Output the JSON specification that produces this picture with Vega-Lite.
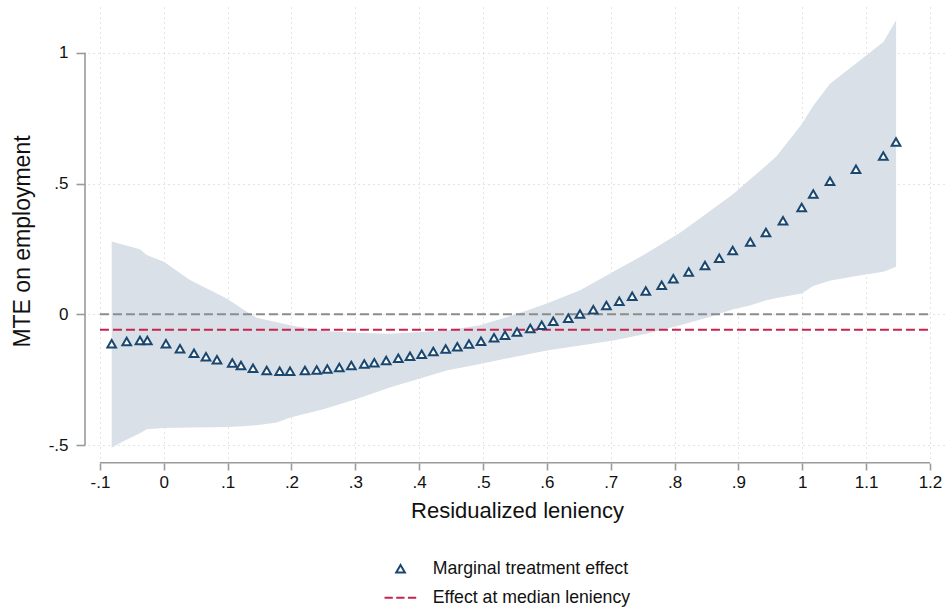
{
  "$schema": "https://vega.github.io/schema/vega-lite/v6.json",
  "width": 858,
  "height": 451,
  "autosize": {"type": "none"},
  "padding": {"left": 88, "top": 7, "right": 0, "bottom": 152},
  "background": "white",
  "config": {
    "view": {"stroke": null},
    "font": "Liberation Sans",
    "axis": {
      "domain": false,
      "gridColor": "#c8c8c8",
      "gridDash": [1, 4],
      "gridWidth": 1,
      "tickColor": "#9a9a9a",
      "tickWidth": 1.6,
      "labelColor": "#111111",
      "labelFont": "Liberation Sans",
      "labelFontSize": 17,
      "titleFont": "Liberation Sans",
      "titleFontSize": 22,
      "titleFontWeight": "normal",
      "titleColor": "#111111"
    },
    "legend": {
      "labelFont": "Liberation Sans",
      "labelFontSize": 17.7,
      "labelColor": "#111111",
      "labelLimit": 400
    }
  },
  "datasets": {
    "band": [
      {"leniency": -0.0816, "hi": 0.278, "lo": -0.51},
      {"leniency": -0.0634, "hi": 0.266, "lo": -0.485},
      {"leniency": -0.0373, "hi": 0.249, "lo": -0.455},
      {"leniency": -0.0268, "hi": 0.227, "lo": -0.44},
      {"leniency": 0.0, "hi": 0.201, "lo": -0.435},
      {"leniency": 0.041, "hi": 0.131, "lo": -0.433},
      {"leniency": 0.083, "hi": 0.08, "lo": -0.432},
      {"leniency": 0.0985, "hi": 0.06, "lo": -0.431},
      {"leniency": 0.1245, "hi": 0.018, "lo": -0.428},
      {"leniency": 0.1455, "hi": -0.013, "lo": -0.424},
      {"leniency": 0.177, "hi": -0.03, "lo": -0.414},
      {"leniency": 0.198, "hi": -0.042, "lo": -0.395},
      {"leniency": 0.25, "hi": -0.064, "lo": -0.363},
      {"leniency": 0.302, "hi": -0.071, "lo": -0.324},
      {"leniency": 0.354, "hi": -0.074, "lo": -0.28},
      {"leniency": 0.443, "hi": -0.062, "lo": -0.215},
      {"leniency": 0.495, "hi": -0.042, "lo": -0.19},
      {"leniency": 0.547, "hi": -0.004, "lo": -0.164},
      {"leniency": 0.6, "hi": 0.041, "lo": -0.138},
      {"leniency": 0.652, "hi": 0.092, "lo": -0.119},
      {"leniency": 0.704, "hi": 0.163, "lo": -0.1},
      {"leniency": 0.756, "hi": 0.233, "lo": -0.074},
      {"leniency": 0.8085, "hi": 0.312, "lo": -0.042},
      {"leniency": 0.855, "hi": 0.394, "lo": -0.01},
      {"leniency": 0.892, "hi": 0.46, "lo": 0.019},
      {"leniency": 0.918, "hi": 0.515, "lo": 0.034},
      {"leniency": 0.944, "hi": 0.57, "lo": 0.054},
      {"leniency": 0.96, "hi": 0.605, "lo": 0.062},
      {"leniency": 0.999, "hi": 0.727, "lo": 0.08},
      {"leniency": 1.017, "hi": 0.797, "lo": 0.108},
      {"leniency": 1.043, "hi": 0.881, "lo": 0.128},
      {"leniency": 1.08, "hi": 0.951, "lo": 0.145},
      {"leniency": 1.127, "hi": 1.041, "lo": 0.163},
      {"leniency": 1.147, "hi": 1.124, "lo": 0.182}
    ],
    "mte": [
      {"leniency": -0.0816, "mte": -0.113},
      {"leniency": -0.0581, "mte": -0.104},
      {"leniency": -0.0373, "mte": -0.1},
      {"leniency": -0.0258, "mte": -0.1},
      {"leniency": 0.0034, "mte": -0.113},
      {"leniency": 0.0254, "mte": -0.132},
      {"leniency": 0.0473, "mte": -0.149},
      {"leniency": 0.0661, "mte": -0.162},
      {"leniency": 0.0833, "mte": -0.174},
      {"leniency": 0.1073, "mte": -0.186},
      {"leniency": 0.1209, "mte": -0.196},
      {"leniency": 0.1397, "mte": -0.206},
      {"leniency": 0.1612, "mte": -0.215},
      {"leniency": 0.1815, "mte": -0.218},
      {"leniency": 0.1977, "mte": -0.218},
      {"leniency": 0.2211, "mte": -0.215},
      {"leniency": 0.2395, "mte": -0.213},
      {"leniency": 0.2561, "mte": -0.209},
      {"leniency": 0.2749, "mte": -0.203},
      {"leniency": 0.2937, "mte": -0.196},
      {"leniency": 0.314, "mte": -0.19},
      {"leniency": 0.3297, "mte": -0.185},
      {"leniency": 0.3483, "mte": -0.177},
      {"leniency": 0.3673, "mte": -0.168},
      {"leniency": 0.3856, "mte": -0.16},
      {"leniency": 0.4039, "mte": -0.153},
      {"leniency": 0.4221, "mte": -0.142},
      {"leniency": 0.4415, "mte": -0.133},
      {"leniency": 0.4597, "mte": -0.124},
      {"leniency": 0.478, "mte": -0.114},
      {"leniency": 0.4968, "mte": -0.103},
      {"leniency": 0.5172, "mte": -0.09},
      {"leniency": 0.5344, "mte": -0.08},
      {"leniency": 0.5532, "mte": -0.068},
      {"leniency": 0.574, "mte": -0.054},
      {"leniency": 0.5919, "mte": -0.042},
      {"leniency": 0.61, "mte": -0.027},
      {"leniency": 0.6335, "mte": -0.015},
      {"leniency": 0.6518, "mte": 0.001},
      {"leniency": 0.6727, "mte": 0.017},
      {"leniency": 0.6932, "mte": 0.034},
      {"leniency": 0.7134, "mte": 0.05},
      {"leniency": 0.7336, "mte": 0.069},
      {"leniency": 0.7549, "mte": 0.089},
      {"leniency": 0.7798, "mte": 0.111},
      {"leniency": 0.798, "mte": 0.136},
      {"leniency": 0.8221, "mte": 0.162},
      {"leniency": 0.8476, "mte": 0.187},
      {"leniency": 0.87, "mte": 0.214},
      {"leniency": 0.891, "mte": 0.244},
      {"leniency": 0.9186, "mte": 0.276},
      {"leniency": 0.9431, "mte": 0.313},
      {"leniency": 0.9698, "mte": 0.358},
      {"leniency": 0.9991, "mte": 0.408},
      {"leniency": 1.0172, "mte": 0.46},
      {"leniency": 1.0434, "mte": 0.509},
      {"leniency": 1.0841, "mte": 0.555},
      {"leniency": 1.1269, "mte": 0.605},
      {"leniency": 1.1468, "mte": 0.659}
    ],
    "refs": [
      {"from": -0.1, "to": 1.2, "level": 0, "kind": "zero"},
      {"from": -0.1, "to": 1.2, "level": -0.059, "kind": "median"}
    ]
  },
  "layer": [
    {
      "data": {"name": "band"},
      "mark": {"type": "area", "color": "#d9e0e8", "opacity": 1},
      "encoding": {
        "x": {
          "field": "leniency", "type": "quantitative",
          "scale": {"domain": [-0.1187, 1.2251], "nice": false, "zero": false},
          "axis": {
            "title": "Residualized leniency",
            "values": [-0.1, 0, 0.1, 0.2, 0.3, 0.4, 0.5, 0.6, 0.7, 0.8, 0.9, 1, 1.1, 1.2],
            "labelExpr": "replace(replace(format(datum.value, '.1~f'), '0.', '.'), '\u2212', '-')",
            "offset": 5,
            "tickSize": 7,
            "labelPadding": 4,
            "titlePadding": 10,
            "grid": true
          }
        },
        "y": {
          "field": "hi", "type": "quantitative",
          "scale": {"domain": [-0.5495, 1.1751], "nice": false, "zero": false},
          "axis": {
            "title": "MTE on employment",
            "values": [-0.5, 0, 0.5, 1],
            "labelExpr": "replace(replace(format(datum.value, '.1~f'), '0.', '.'), '\u2212', '-')",
            "offset": 3,
            "tickSize": 9,
            "labelPadding": 8,
            "titlePadding": 14,
            "titleFontSize": 23,
            "titleY": 234,
            "grid": true
          }
        },
        "y2": {"field": "lo"}
      }
    },
    {
      "data": {"name": "refs"},
      "transform": [{"filter": "datum.kind === 'zero'"}],
      "mark": {"type": "rule", "color": "#8c8c8c", "strokeWidth": 2, "strokeDash": [9, 4]},
      "encoding": {
        "x": {"field": "from", "type": "quantitative"},
        "x2": {"field": "to"},
        "y": {"field": "level", "type": "quantitative"}
      }
    },
    {
      "data": {"name": "refs"},
      "transform": [{"filter": "datum.kind === 'median'"}],
      "mark": {"type": "rule", "color": "#c8234e", "strokeWidth": 2, "strokeDash": [9, 4]},
      "encoding": {
        "x": {"field": "from", "type": "quantitative"},
        "x2": {"field": "to"},
        "y": {"field": "level", "type": "quantitative"}
      }
    },
    {
      "data": {"name": "refs"},
      "transform": [{"filter": "datum.kind === 'zero'"}],
      "mark": {"type": "rule", "color": "#9a9a9a", "strokeWidth": 1.6},
      "encoding": {
        "x": {"field": "from", "type": "quantitative"},
        "x2": {"field": "to"},
        "y": {"datum": -0.5675}
      }
    },
    {
      "data": {"name": "refs"},
      "transform": [{"filter": "datum.kind === 'zero'"}],
      "mark": {"type": "rule", "color": "#9a9a9a", "strokeWidth": 1.6},
      "encoding": {
        "x": {"datum": -0.1234},
        "y": {"datum": -0.5},
        "y2": {"datum": 1}
      }
    },
    {
      "data": {"name": "mte"},
      "mark": {"type": "point", "filled": false, "fill": "white", "strokeWidth": 2, "size": 75, "opacity": 1},
      "encoding": {
        "x": {"field": "leniency", "type": "quantitative"},
        "y": {"field": "mte", "type": "quantitative"},
        "color": {
          "datum": "Marginal treatment effect",
          "scale": {
            "domain": ["Marginal treatment effect", "Effect at median leniency"],
            "range": ["#1a476f", "#c8234e"]
          },
          "legend": {
            "title": null,
            "orient": "none",
            "legendX": 303.7,
            "legendY": 553,
            "direction": "vertical",
            "padding": 0,
            "symbolSize": 75,
            "symbolStrokeWidth": 2,
            "labelOffset": 23.4,
            "labelLimit": 400,
            "rowPadding": 10
          }
        },
        "shape": {
          "datum": "Marginal treatment effect",
          "scale": {
            "domain": ["Marginal treatment effect", "Effect at median leniency"],
            "range": ["triangle-up", "M-3.7,0H-1.78M-1,0H0.92M1.7,0H3.62"]
          },
          "legend": {
            "title": null,
            "orient": "none",
            "legendX": 303.7,
            "legendY": 553,
            "direction": "vertical",
            "padding": 0,
            "symbolSize": 75,
            "symbolStrokeWidth": 2,
            "labelOffset": 23.4,
            "labelLimit": 400,
            "rowPadding": 10
          }
        }
      }
    }
  ]
}
